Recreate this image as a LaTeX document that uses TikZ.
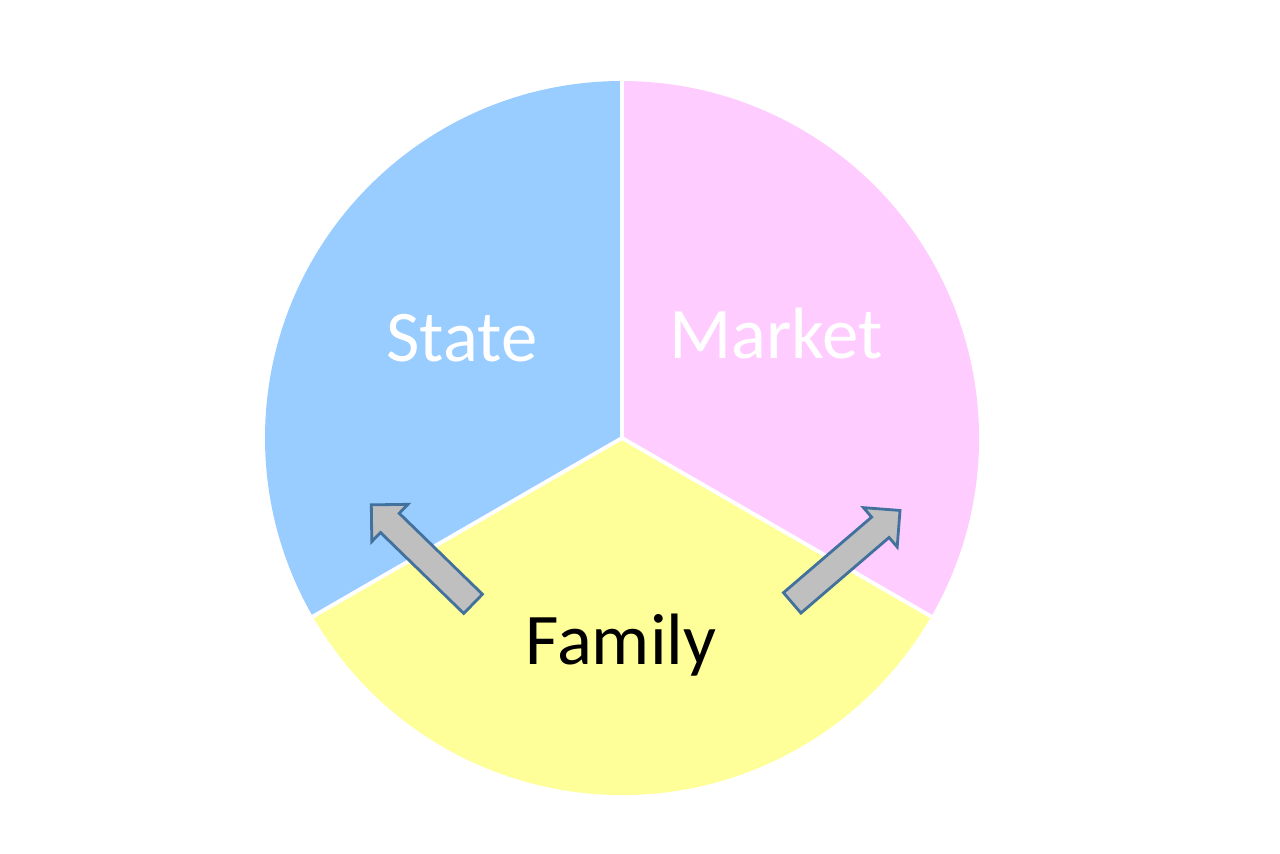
\documentclass[tikz,border=0pt]{standalone}
\usepackage{fontspec}
\setmainfont{Carlito}
\usepackage{tikz}
\usetikzlibrary{shapes.arrows}
\definecolor{StateBlue}{HTML}{99CCFF}
\definecolor{MarketPink}{HTML}{FFCCFF}
\definecolor{FamilyYellow}{HTML}{FFFF99}
\definecolor{ArrowGray}{HTML}{BFBFBF}
\definecolor{ArrowLine}{HTML}{41719C}

\begin{document}
\begin{tikzpicture}[
    sector/.style={draw=white, line width=1.1pt},
    label/.style={font=\fontsize{20.7}{24}\selectfont, inner sep=0pt},
    blockarrow/.style={
      single arrow,
      fill=ArrowGray,
      draw=ArrowLine,
      line width=0.8pt,
      inner sep=0.12cm,
      minimum width=0pt,
      minimum height=1.42cm,
      single arrow head extend=0.125cm,
      single arrow tip angle=90
    }
  ]
    \useasboundingbox (0,0) rectangle (12.8,8.53);
    \coordinate (hub) at (6.22,4.15);
    % three equal sectors
    \fill[StateBlue] (hub) -- ++(90:3.57) arc[start angle=90, end angle=210, radius=3.57] -- cycle;
    \fill[MarketPink] (hub) -- ++(-30:3.57) arc[start angle=-30, end angle=90, radius=3.57] -- cycle;
    \fill[FamilyYellow] (hub) -- ++(210:3.57) arc[start angle=210, end angle=330, radius=3.57] -- cycle;
    \foreach \a in {90,210,330}
      \draw[sector] (hub) -- ++(\a:3.57);
    \node[label, text=white] (state) at (4.62,5.15) {State};
    \node[label, text=white] (market) at (7.76,5.2) {Market};
    \node[label, text=black] (family) at (6.21,2.08) {Family};
    \node[blockarrow, rotate=135.8] (toState) at (4.27,2.94) {};
    \node[blockarrow, rotate=40.6] (toMarket) at (8.41,2.92) {};
  \end{tikzpicture}
\end{document}
